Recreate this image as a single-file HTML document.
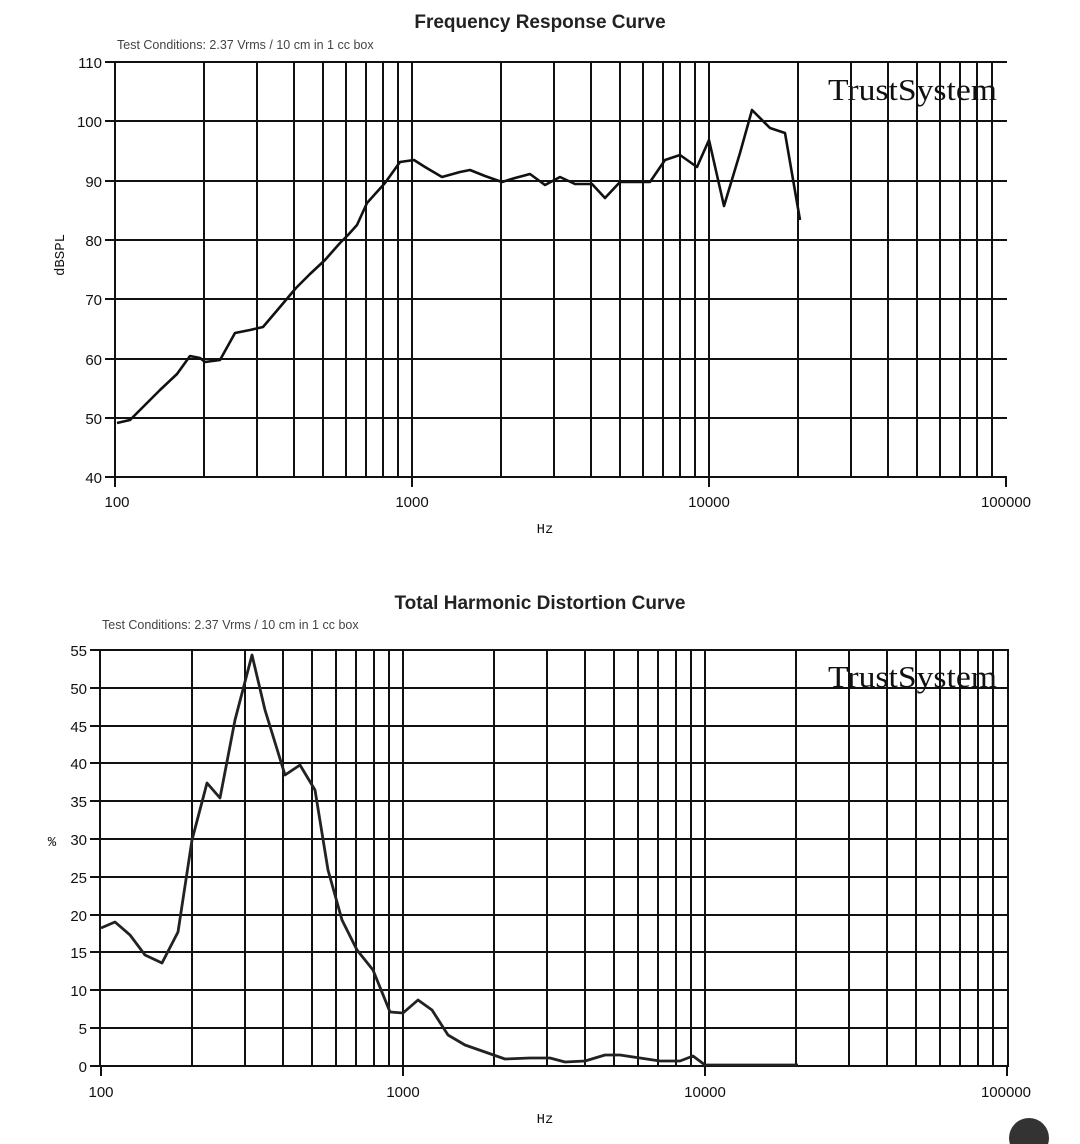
<!DOCTYPE html>
<html><head><meta charset="utf-8"><style>
body{margin:0;background:#fff;}
svg{display:block;}
.t{font-family:"Liberation Sans",sans-serif;font-weight:bold;font-size:19px;fill:#222;}
.c{font-family:"Liberation Sans",sans-serif;font-size:12.5px;fill:#444;}
.n{font-family:"Liberation Sans",sans-serif;font-size:15px;fill:#111;}
.m{font-family:"Liberation Mono",monospace;font-size:14px;fill:#111;}
.ts{font-family:"Liberation Serif",serif;font-size:31px;fill:#111;}
</style></head><body>
<svg width="1080" height="1144" viewBox="0 0 1080 1144">
<text class="t" x="540" y="28" text-anchor="middle">Frequency Response Curve</text>
<text class="c" x="117" y="49">Test Conditions: 2.37 Vrms / 10 cm in 1 cc box</text>
<g stroke="#111" stroke-width="2" fill="none">
<path d="M115 62V477 M115 62H1007 M115 121H1007 M115 181H1007 M115 240H1007 M115 299H1007 M115 359H1007 M115 418H1007 M115 477H1007"/>
<path d="M204 62V477M257 62V477M294 62V477M323 62V477M346 62V477M366 62V477M383 62V477M398 62V477M412 62V477M501 62V477M554 62V477M591 62V477M620 62V477M643 62V477M663 62V477M680 62V477M695 62V477M709 62V477M798 62V477M851 62V477M888 62V477M917 62V477M940 62V477M960 62V477M977 62V477M992 62V477"/>
<path d="M105 62H115M105 121H115M105 181H115M105 240H115M105 299H115M105 359H115M105 418H115M105 477H115M115 477V487M412 477V487M709 477V487M1006 477V487"/>
</g>
<g class="n" text-anchor="end">
<text x="102" y="68">110</text><text x="102" y="127">100</text><text x="102" y="187">90</text><text x="102" y="246">80</text><text x="102" y="305">70</text><text x="102" y="365">60</text><text x="102" y="424">50</text><text x="102" y="483">40</text></g>
<g class="n" text-anchor="middle"><text x="117" y="507">100</text><text x="412" y="507">1000</text><text x="709" y="507">10000</text><text x="1006" y="507">100000</text></g>
<text class="m" x="545" y="533" text-anchor="middle">Hz</text>
<text class="m" transform="translate(64,255) rotate(-90)" text-anchor="middle">dBSPL</text>
<text class="ts" x="828" y="100" textLength="169" lengthAdjust="spacingAndGlyphs">TrustSystem</text>
<polyline fill="none" stroke="#111" stroke-width="2.6" stroke-linejoin="round" points="117,423 130,420 140,410 160,390 177,374 190,356 200,358 205,362 220,360 235,333 250,330 263,327 280,307 296,288 310,274 325,260 340,243 348,235 357,225 367,203 385,183 400,162 414,160 425,167 442,177 460,172 470,170 485,176 502,182 515,178 530,174 545,185 560,177 575,184 592,184 605,198 620,182 650,182 665,160 680,155 697,167 709,140 724,206 740,153 752,110 770,128 785,133 800,220"/>

<text class="t" x="540" y="609" text-anchor="middle">Total Harmonic Distortion Curve</text>
<text class="c" x="102" y="629">Test Conditions: 2.37 Vrms / 10 cm in 1 cc box</text>
<g stroke="#111" stroke-width="2" fill="none">
<path d="M100 650V1066H1008V650H100 M100 688H1008M100 726H1008M100 763H1008M100 801H1008M100 839H1008M100 877H1008M100 915H1008M100 952H1008M100 990H1008M100 1028H1008"/>
<path d="M192 650V1066M245 650V1066M283 650V1066M312 650V1066M336 650V1066M356 650V1066M374 650V1066M389 650V1066M403 650V1066M494 650V1066M547 650V1066M585 650V1066M614 650V1066M638 650V1066M658 650V1066M676 650V1066M691 650V1066M705 650V1066M796 650V1066M849 650V1066M887 650V1066M916 650V1066M940 650V1066M960 650V1066M978 650V1066M993 650V1066"/>
<path d="M90 650H100M90 688H100M90 726H100M90 763H100M90 801H100M90 839H100M90 877H100M90 915H100M90 952H100M90 990H100M90 1028H100M90 1066H100M101 1066V1076M403 1066V1076M705 1066V1076M1007 1066V1076"/>
</g>
<g class="n" text-anchor="end">
<text x="87" y="656">55</text><text x="87" y="694">50</text><text x="87" y="732">45</text><text x="87" y="769">40</text><text x="87" y="807">35</text><text x="87" y="845">30</text><text x="87" y="883">25</text><text x="87" y="921">20</text><text x="87" y="958">15</text><text x="87" y="996">10</text><text x="87" y="1034">5</text><text x="87" y="1072">0</text></g>
<g class="n" text-anchor="middle"><text x="101" y="1097">100</text><text x="403" y="1097">1000</text><text x="705" y="1097">10000</text><text x="1006" y="1097">100000</text></g>
<text class="m" x="545" y="1123" text-anchor="middle">Hz</text>
<text class="m" x="52" y="846" text-anchor="middle">%</text>
<text class="ts" x="828" y="687" textLength="169" lengthAdjust="spacingAndGlyphs">TrustSystem</text>
<polyline fill="none" stroke="#222" stroke-width="2.8" stroke-linejoin="round" points="101,928 115,922 130,935 145,955 162,963 178,932 192,840 207,783 220,798 235,720 252,655 265,710 285,775 300,765 315,790 328,870 342,920 357,950 373,970 390,1012 403,1013 418,1000 432,1010 448,1035 465,1045 485,1052 505,1059 530,1058 550,1058 565,1062 585,1061 605,1055 620,1055 640,1058 660,1061 680,1061 693,1056 705,1065 798,1065"/>
<circle cx="1029" cy="1138" r="20" fill="#333"/>
</svg>
</body></html>
